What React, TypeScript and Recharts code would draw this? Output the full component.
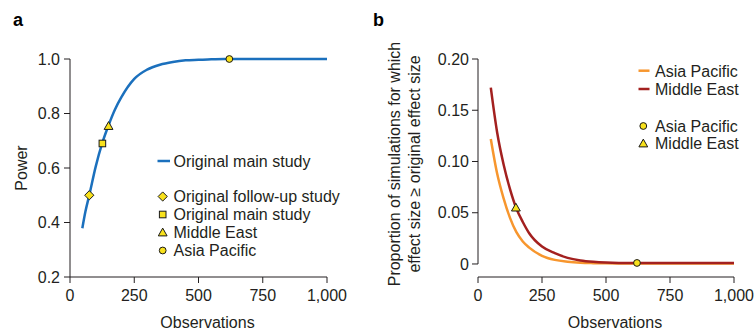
import React from 'react';
import {
  ComposedChart,
  Line,
  Scatter,
  XAxis,
  YAxis,
  ReferenceLine,
} from 'recharts';

// panel a: power curve
const powerObs = [48, 60, 75, 100, 125, 150, 175, 200, 250, 300, 350, 400, 450, 500, 550, 600, 700, 800, 900, 1000];
const powerValues = [0.379, 0.44, 0.5, 0.605, 0.69, 0.757, 0.815, 0.86, 0.927, 0.961, 0.979, 0.989, 0.995, 0.997, 0.999, 1, 1, 1, 1, 1];

const studyNames = ['Original follow-up study', 'Original main study', 'Middle East', 'Asia Pacific'];
const studyObs = [75, 126, 150, 620];
const studyPower = [0.5, 0.69, 0.754, 1.0];

// panel b: proportion of simulations with effect size >= original
const simObs = [50, 75, 100, 125, 150, 175, 200, 250, 300, 350, 400, 450, 500, 600, 700, 800, 900, 1000];
const asiaPacificProp = [0.122, 0.088, 0.064, 0.045, 0.031, 0.022, 0.016, 0.008, 0.004, 0.0022, 0.0012, 0.0008, 0.0006, 0.0005, 0.0005, 0.0005, 0.0005, 0.0005];
const middleEastProp = [0.172, 0.128, 0.097, 0.073, 0.054, 0.041, 0.03, 0.017, 0.0105, 0.006, 0.0035, 0.0022, 0.0015, 0.001, 0.001, 0.001, 0.001, 0.001];

const regionObs = [621, 148];
const regionProp = [0.001, 0.055];

const xTicks = [0, 250, 500, 750, 1000];
const powerTicks = [0.2, 0.4, 0.6, 0.8, 1.0];
const propTicks = [0, 0.05, 0.1, 0.15, 0.2];

const FONT = '"Liberation Sans", Arial, Helvetica, sans-serif';
const FS = 16;
const INK = '#231f20';
const BLUE = '#1b70bd';
const ORANGE = '#f7962e';
const DARKRED = '#a3201f';
const YELLOW = '#f8e11c';

const powerData = powerObs.map((x, i) => ({ x, y: powerValues[i] }));
const asiaData = simObs.map((x, i) => ({ x, y: asiaPacificProp[i] }));
const meData = simObs.map((x, i) => ({ x, y: middleEastProp[i] }));
const studyPoints = studyObs.map((x, i) => [{ x, y: studyPower[i], name: studyNames[i] }]);
const regionPoints = regionObs.map((x, i) => [{ x, y: regionProp[i] }]);

type MarkerKind = 'diamond' | 'square' | 'triangle' | 'circle';

function Marker({ kind, cx, cy }: { kind: MarkerKind; cx: number; cy: number }) {
  const common = { fill: YELLOW, stroke: '#1a1a1a', strokeWidth: 1 };
  if (kind === 'diamond') {
    return <polygon points={`${cx},${cy - 4.6} ${cx + 4.6},${cy} ${cx},${cy + 4.6} ${cx - 4.6},${cy}`} {...common} />;
  }
  if (kind === 'square') {
    return <rect x={cx - 3.3} y={cy - 3.3} width={6.6} height={6.6} {...common} />;
  }
  if (kind === 'triangle') {
    return <polygon points={`${cx},${cy - 4.4} ${cx + 4.4},${cy + 3.4} ${cx - 4.4},${cy + 3.4}`} {...common} />;
  }
  return <circle cx={cx} cy={cy} r={3.4} {...common} />;
}

const shapeFor = (kind: MarkerKind) => (props: any) => <Marker kind={kind} cx={props.cx} cy={props.cy} />;

const fmtThousands = (v: number) => v.toLocaleString('en-US');
const fmtProp = (v: number) => (v === 0 ? '0' : v.toFixed(2));

const tickStyle = { fontSize: FS, fill: INK, fontFamily: FONT };

const xTitle = (props: any) => {
  const vb = props.viewBox;
  return (
    <text x={vb.x + vb.width / 2 + 9} y={vb.y + 51} textAnchor="middle" fontSize={FS} fill={INK} fontFamily={FONT}>
      Observations
    </text>
  );
};

const yTitle = (lines: string[], baseX: number, centerY: number) => (props: any) => {
  const vb = props.viewBox;
  const cy = centerY;
  return (
    <g>
      {lines.map((line, i) => (
        <text
          key={i}
          x={vb.x + baseX + i * 20}
          y={cy}
          transform={`rotate(-90, ${vb.x + baseX + i * 20}, ${cy})`}
          textAnchor="middle"
          fontSize={FS}
          fill={INK}
          fontFamily={FONT}
        >
          {line}
        </text>
      ))}
    </g>
  );
};

function PanelA() {
  return (
    <ComposedChart width={375} height={331} margin={{ top: 59, right: 48, bottom: 0, left: 0 }}>
      <XAxis
        type="number"
        dataKey="x"
        domain={[0, 1000]}
        ticks={xTicks}
        tickFormatter={fmtThousands}
        height={54}
        tickSize={6}
        tickMargin={7}
        tick={tickStyle}
        stroke={INK}
        label={{ content: xTitle }}
      />
      <YAxis
        type="number"
        dataKey="y"
        domain={[0.2, 1.0]}
        ticks={powerTicks}
        tickFormatter={(v: number) => v.toFixed(1)}
        width={70}
        tickSize={6}
        tickMargin={4}
        tick={tickStyle}
        stroke={INK}
        label={{ content: yTitle(['Power'], 27, 168) }}
      />
      <Line
        data={powerData}
        dataKey="y"
        type="monotone"
        stroke={BLUE}
        strokeWidth={2.5}
        dot={false}
        isAnimationActive={false}
      />
      {studyPoints.map((pts, i) => (
        <Scatter
          key={studyNames[i]}
          data={pts}
          dataKey="y"
          shape={shapeFor((['diamond', 'square', 'triangle', 'circle'] as MarkerKind[])[i])}
          isAnimationActive={false}
        />
      ))}
    </ComposedChart>
  );
}

function PanelB() {
  return (
    <ComposedChart width={380} height={331} margin={{ top: 59, right: 21, bottom: 0, left: 0 }}>
      <XAxis
        type="number"
        dataKey="x"
        domain={[0, 1000]}
        ticks={xTicks}
        tickFormatter={fmtThousands}
        height={54}
        tickSize={6}
        tickMargin={7}
        tick={tickStyle}
        stroke={INK}
        label={{ content: xTitle }}
      />
      <YAxis
        type="number"
        dataKey="y"
        domain={[-0.0127, 0.2]}
        ticks={propTicks}
        tickFormatter={fmtProp}
        width={103}
        tickSize={6}
        tickMargin={3}
        tick={tickStyle}
        stroke={INK}
        axisLine={false}
        label={{
          content: yTitle(['Proportion of simulations for which', 'effect size \u2265 original effect size'], 25, 164),
        }}
      />
      <ReferenceLine
        segment={[
          { x: 0, y: 0 },
          { x: 0, y: 0.2 },
        ]}
        stroke={INK}
        strokeWidth={1}
        ifOverflow="visible"
      />
      <Line data={asiaData} dataKey="y" type="monotone" stroke={ORANGE} strokeWidth={2.5} dot={false} isAnimationActive={false} />
      <Line data={meData} dataKey="y" type="monotone" stroke={DARKRED} strokeWidth={2.5} dot={false} isAnimationActive={false} />
      {regionPoints.map((pts, i) => (
        <Scatter
          key={i}
          data={pts}
          dataKey="y"
          shape={shapeFor(i === 0 ? 'circle' : 'triangle')}
          isAnimationActive={false}
        />
      ))}
    </ComposedChart>
  );
}

function Legends() {
  const txt = { fontSize: FS, fill: INK, fontFamily: FONT };
  const markerKinds: MarkerKind[] = ['diamond', 'square', 'triangle', 'circle'];
  const aRows = [196.5, 214.5, 232.5, 250.5];
  return (
    <svg width={755} height={331} style={{ position: 'absolute', left: 0, top: 0, pointerEvents: 'none' }}>
      <text x={13} y={26} fontSize={18} fontWeight="bold" fill="#000" fontFamily={FONT}>a</text>
      <text x={373} y={26} fontSize={18} fontWeight="bold" fill="#000" fontFamily={FONT}>b</text>

      <line x1={157.5} x2={170} y1={161} y2={161} stroke={BLUE} strokeWidth={2.5} />
      <text x={173.5} y={166.8} {...txt}>Original main study</text>
      {studyNames.map((name, i) => (
        <g key={name}>
          <Marker kind={markerKinds[i]} cx={162.7} cy={aRows[i]} />
          <text x={173.5} y={aRows[i] + 5.8} {...txt}>{name}</text>
        </g>
      ))}

      <line x1={638.5} x2={649.5} y1={70.7} y2={70.7} stroke={ORANGE} strokeWidth={2.5} />
      <text x={655} y={76.5} {...txt}>Asia Pacific</text>
      <line x1={638.5} x2={649.5} y1={89} y2={89} stroke={DARKRED} strokeWidth={2.5} />
      <text x={655} y={94.8} {...txt}>Middle East</text>
      <Marker kind="circle" cx={643.3} cy={126} />
      <text x={655} y={131.8} {...txt}>Asia Pacific</text>
      <Marker kind="triangle" cx={643.3} cy={143.5} />
      <text x={655} y={149.3} {...txt}>Middle East</text>
    </svg>
  );
}

export default function App() {
  return (
    <div style={{ position: 'absolute', left: 0, top: 0, width: 755, height: 331, background: '#fff', fontFamily: FONT }}>
      <div style={{ position: 'absolute', left: 0, top: 0 }}>
        <PanelA />
      </div>
      <div style={{ position: 'absolute', left: 375, top: 0 }}>
        <PanelB />
      </div>
      <Legends />
    </div>
  );
}
